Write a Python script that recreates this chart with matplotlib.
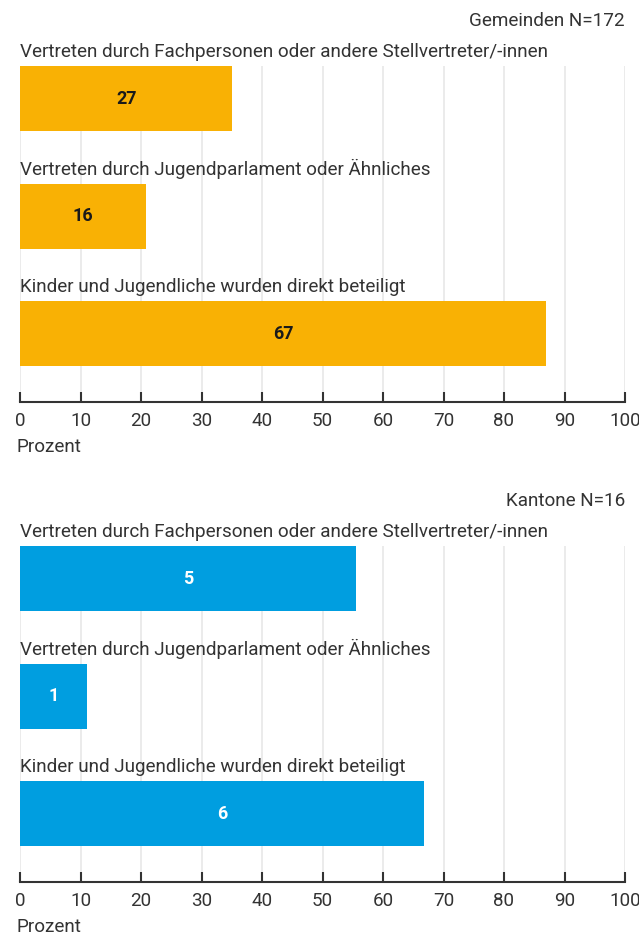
import numpy as np
import matplotlib.pyplot as plt

# Daten
kategorien = ["Vertreten durch Fachpersonen oder andere Stellvertreter/-innen",
              "Vertreten durch Jugendparlament oder Ähnliches",
              "Kinder und Jugendliche wurden direkt beteiligt"]
gemeinden_prozent = [35.1, 20.8, 87.0]
gemeinden_anzahl = [27, 16, 67]
kantone_prozent = [55.6, 11.1, 66.7]
kantone_anzahl = [5, 1, 6]
titel = ["Gemeinden N=172", "Kantone N=16"]
ticks = [0, 10, 20, 30, 40, 50, 60, 70, 80, 90, 100]

plt.rcParams['font.family'] = ['Roboto', 'DejaVu Sans']
GRAU = "#333333"
FS = 13.6
W, H = 639, 938

fig = plt.figure(figsize=(W/100, H/100), dpi=100)

def panel(top, bottom, werte, anzahl, farbe, textfarbe, tit):
    ax = fig.add_axes([20/W, 1-bottom/H, 605/W, (bottom-top)/H])
    y = np.arange(len(werte))
    ax.barh(y, werte, height=65/117.5, color=farbe, zorder=2)
    ax.set_xlim(0, 100)
    ax.set_ylim(2.583, -0.277)
    ax.set_xticks(ticks)
    ax.grid(axis="x", color="#e8e8e8", lw=1.2, zorder=0)
    ax.set_yticks([])
    for s in ["top", "right", "left"]:
        ax.spines[s].set_visible(False)
    ax.spines["bottom"].set_color(GRAU)
    ax.spines["bottom"].set_linewidth(1.5)
    ax.tick_params(axis="x", direction="in", length=7, width=1.5, color=GRAU,
                   labelsize=FS, labelcolor=GRAU, pad=7)
    for i, (w, n, k) in enumerate(zip(werte, anzahl, kategorien)):
        ax.text(w/2, i, str(n), ha="center", va="center", fontsize=13,
                fontweight="bold", color=textfarbe, zorder=3)
        ax.text(0, i-0.40, k, ha="left", va="center", fontsize=FS, color=GRAU)
    fig.text(625/W, 1-(top-45)/H, tit, ha="right", va="center", fontsize=FS, color=GRAU)
    fig.text(16/W, 1-(bottom+45)/H, "Prozent", ha="left", va="center", fontsize=FS, color=GRAU)
    return ax

panel(66, 402, gemeinden_prozent, gemeinden_anzahl, "#F9B104", "#1a1a1a", titel[0])
panel(546, 882, kantone_prozent, kantone_anzahl, "#009EE0", "white", titel[1])

fig.savefig("out.png", dpi=100)
